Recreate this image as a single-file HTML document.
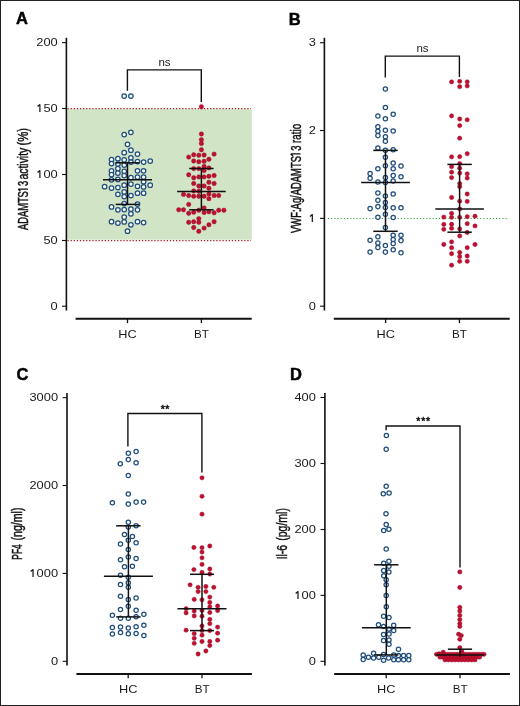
<!DOCTYPE html>
<html><head><meta charset="utf-8"><style>
html,body{margin:0;padding:0;background:#fff;}
svg{display:block;will-change:transform;}
</style></head><body>
<svg width="520" height="706" viewBox="0 0 520 706">
<rect x="0.5" y="0.5" width="519" height="705" fill="#fff" stroke="#222" stroke-width="1"/><rect x="67.2" y="109.2" width="184.6" height="130.5" fill="#d2e4c6"/><g stroke="#b01c22" stroke-width="1.2" stroke-dasharray="1.3 1.8"><line x1="67.5" y1="108.6" x2="251" y2="108.6"/><line x1="67.5" y1="240.6" x2="251" y2="240.6"/></g><g stroke="#34a034" stroke-width="1.15" stroke-dasharray="1.1 2.07"><line x1="328" y1="218.5" x2="509" y2="218.5"/></g><g stroke="#111" fill="none"><line x1="66.4" y1="37.8" x2="66.4" y2="310.4" stroke-width="1.6"/><line x1="62.00000000000001" y1="42.6" x2="66.4" y2="42.6" stroke-width="1.1"/><line x1="62.00000000000001" y1="108.5" x2="66.4" y2="108.5" stroke-width="1.1"/><line x1="62.00000000000001" y1="174.5" x2="66.4" y2="174.5" stroke-width="1.1"/><line x1="62.00000000000001" y1="240.5" x2="66.4" y2="240.5" stroke-width="1.1"/><line x1="62.00000000000001" y1="306.2" x2="66.4" y2="306.2" stroke-width="1.1"/><line x1="75.6" y1="318.8" x2="251.7" y2="318.8" stroke-width="2"/><line x1="127.5" y1="318.8" x2="127.5" y2="323.1" stroke-width="1.3"/><line x1="201.4" y1="318.8" x2="201.4" y2="323.1" stroke-width="1.3"/><line x1="324.4" y1="37.8" x2="324.4" y2="310.4" stroke-width="1.6"/><line x1="320.0" y1="42.7" x2="324.4" y2="42.7" stroke-width="1.1"/><line x1="320.0" y1="130.5" x2="324.4" y2="130.5" stroke-width="1.1"/><line x1="320.0" y1="218.4" x2="324.4" y2="218.4" stroke-width="1.1"/><line x1="320.0" y1="306.2" x2="324.4" y2="306.2" stroke-width="1.1"/><line x1="333.8" y1="318.8" x2="509.7" y2="318.8" stroke-width="2"/><line x1="385.6" y1="318.8" x2="385.6" y2="323.1" stroke-width="1.3"/><line x1="459.4" y1="318.8" x2="459.4" y2="323.1" stroke-width="1.3"/><line x1="67.0" y1="392.9" x2="67.0" y2="665.6" stroke-width="1.6"/><line x1="62.6" y1="397.7" x2="67.0" y2="397.7" stroke-width="1.1"/><line x1="62.6" y1="485.5" x2="67.0" y2="485.5" stroke-width="1.1"/><line x1="62.6" y1="573.4" x2="67.0" y2="573.4" stroke-width="1.1"/><line x1="62.6" y1="661.3" x2="67.0" y2="661.3" stroke-width="1.1"/><line x1="76.4" y1="673.9" x2="251.9" y2="673.9" stroke-width="2"/><line x1="128.2" y1="673.9" x2="128.2" y2="678.1999999999999" stroke-width="1.3"/><line x1="202" y1="673.9" x2="202" y2="678.1999999999999" stroke-width="1.3"/><line x1="324.9" y1="392.9" x2="324.9" y2="665.6" stroke-width="1.6"/><line x1="320.5" y1="397.5" x2="324.9" y2="397.5" stroke-width="1.1"/><line x1="320.5" y1="463.5" x2="324.9" y2="463.5" stroke-width="1.1"/><line x1="320.5" y1="529.5" x2="324.9" y2="529.5" stroke-width="1.1"/><line x1="320.5" y1="595.4" x2="324.9" y2="595.4" stroke-width="1.1"/><line x1="320.5" y1="661.3" x2="324.9" y2="661.3" stroke-width="1.1"/><line x1="334.2" y1="673.9" x2="509.9" y2="673.9" stroke-width="2"/><line x1="386.2" y1="673.9" x2="386.2" y2="678.1999999999999" stroke-width="1.3"/><line x1="460" y1="673.9" x2="460" y2="678.1999999999999" stroke-width="1.3"/><g stroke-width="1.4"><polyline points="127.4,90.7 127.4,69.9 201.3,69.9 201.3,102"/><polyline points="385.3,77.4 385.3,56.1 459.4,56.1 459.4,77"/><polyline points="127.9,446.5 127.9,413.5 201.9,413.5 201.9,472.5"/><polyline points="386.1,430.3 386.1,426 460,426 460,567.5"/></g></g><g fill="#fff" stroke="#1f4d7c" stroke-width="1.25"><circle cx="124.2" cy="96" r="2.25"/><circle cx="130.9" cy="96" r="2.25"/><circle cx="124.2" cy="134.5" r="2.25"/><circle cx="130.9" cy="132.3" r="2.25"/><circle cx="127.5" cy="144.3" r="2.25"/><circle cx="130.9" cy="150.2" r="2.25"/><circle cx="124.2" cy="152.7" r="2.25"/><circle cx="137.5" cy="154.1" r="2.25"/><circle cx="111.5" cy="159.5" r="2.25"/><circle cx="117.9" cy="158.7" r="2.25"/><circle cx="124.2" cy="159.8" r="2.25"/><circle cx="130.9" cy="157.8" r="2.25"/><circle cx="137.5" cy="161.5" r="2.25"/><circle cx="143.6" cy="162.1" r="2.25"/><circle cx="150.2" cy="161" r="2.25"/><circle cx="130.9" cy="162.1" r="2.25"/><circle cx="111.5" cy="163.6" r="2.25"/><circle cx="117.9" cy="164.1" r="2.25"/><circle cx="124.2" cy="165" r="2.25"/><circle cx="117.9" cy="168.5" r="2.25"/><circle cx="111.5" cy="170.8" r="2.25"/><circle cx="124.2" cy="171.3" r="2.25"/><circle cx="137.5" cy="170.8" r="2.25"/><circle cx="143.6" cy="170.8" r="2.25"/><circle cx="117.9" cy="173.1" r="2.25"/><circle cx="111.5" cy="174.5" r="2.25"/><circle cx="124.2" cy="175.6" r="2.25"/><circle cx="130.9" cy="177.5" r="2.25"/><circle cx="137.5" cy="177.1" r="2.25"/><circle cx="143.6" cy="177.1" r="2.25"/><circle cx="111.5" cy="179.8" r="2.25"/><circle cx="117.9" cy="179.4" r="2.25"/><circle cx="143.6" cy="181.7" r="2.25"/><circle cx="130.9" cy="184" r="2.25"/><circle cx="124.2" cy="185.2" r="2.25"/><circle cx="150.2" cy="185.2" r="2.25"/><circle cx="104.6" cy="186.7" r="2.25"/><circle cx="137.5" cy="186.3" r="2.25"/><circle cx="143.6" cy="186.9" r="2.25"/><circle cx="111.5" cy="188.1" r="2.25"/><circle cx="117.9" cy="187.5" r="2.25"/><circle cx="117.9" cy="194.3" r="2.25"/><circle cx="124.2" cy="191.9" r="2.25"/><circle cx="124.2" cy="196.5" r="2.25"/><circle cx="130.9" cy="195.5" r="2.25"/><circle cx="137.5" cy="193.2" r="2.25"/><circle cx="143.6" cy="193.2" r="2.25"/><circle cx="124.2" cy="203.5" r="2.25"/><circle cx="137.5" cy="204" r="2.25"/><circle cx="111.5" cy="206.9" r="2.25"/><circle cx="117.9" cy="209.8" r="2.25"/><circle cx="124.2" cy="209.5" r="2.25"/><circle cx="130.9" cy="209.2" r="2.25"/><circle cx="130.9" cy="213.8" r="2.25"/><circle cx="137.5" cy="209.8" r="2.25"/><circle cx="124.2" cy="217.1" r="2.25"/><circle cx="111.5" cy="221.7" r="2.25"/><circle cx="117.9" cy="223.1" r="2.25"/><circle cx="124.2" cy="221.9" r="2.25"/><circle cx="130.9" cy="224.8" r="2.25"/><circle cx="137.5" cy="221.7" r="2.25"/><circle cx="143.6" cy="222.5" r="2.25"/><circle cx="127.5" cy="231.2" r="2.25"/><circle cx="385.4" cy="89" r="2.15"/><circle cx="385.4" cy="107.5" r="2.15"/><circle cx="377.9" cy="116" r="2.15"/><circle cx="385.4" cy="118.7" r="2.15"/><circle cx="393.2" cy="114.3" r="2.15"/><circle cx="377.9" cy="126.7" r="2.15"/><circle cx="377.9" cy="131.3" r="2.15"/><circle cx="377.9" cy="135.6" r="2.15"/><circle cx="385.4" cy="130.2" r="2.15"/><circle cx="385.4" cy="136.8" r="2.15"/><circle cx="393.2" cy="131" r="2.15"/><circle cx="385.4" cy="141.3" r="2.15"/><circle cx="377.9" cy="147.9" r="2.15"/><circle cx="385.4" cy="150.2" r="2.15"/><circle cx="393.2" cy="149.8" r="2.15"/><circle cx="385.4" cy="157.3" r="2.15"/><circle cx="385.4" cy="165.8" r="2.15"/><circle cx="393.2" cy="162.9" r="2.15"/><circle cx="393.2" cy="168.7" r="2.15"/><circle cx="401" cy="166" r="2.15"/><circle cx="377.9" cy="168.7" r="2.15"/><circle cx="370.1" cy="173.6" r="2.15"/><circle cx="370.1" cy="178.2" r="2.15"/><circle cx="385.4" cy="177.5" r="2.15"/><circle cx="393.2" cy="175.6" r="2.15"/><circle cx="401" cy="176.7" r="2.15"/><circle cx="377.9" cy="182" r="2.15"/><circle cx="385.4" cy="182.5" r="2.15"/><circle cx="393.2" cy="181" r="2.15"/><circle cx="377.9" cy="193" r="2.15"/><circle cx="393.2" cy="193.9" r="2.15"/><circle cx="385.4" cy="195.9" r="2.15"/><circle cx="377.9" cy="200.2" r="2.15"/><circle cx="385.4" cy="202.5" r="2.15"/><circle cx="370.1" cy="208.6" r="2.15"/><circle cx="377.9" cy="206.6" r="2.15"/><circle cx="385.4" cy="207.4" r="2.15"/><circle cx="393.2" cy="207.8" r="2.15"/><circle cx="401" cy="207.8" r="2.15"/><circle cx="385.4" cy="214.3" r="2.15"/><circle cx="377.9" cy="217.2" r="2.15"/><circle cx="393.2" cy="217.5" r="2.15"/><circle cx="385.4" cy="227.4" r="2.15"/><circle cx="377.9" cy="236.8" r="2.15"/><circle cx="393.2" cy="235.2" r="2.15"/><circle cx="401" cy="235.2" r="2.15"/><circle cx="370.1" cy="240.2" r="2.15"/><circle cx="370.1" cy="252.1" r="2.15"/><circle cx="377.9" cy="242.9" r="2.15"/><circle cx="377.9" cy="247.5" r="2.15"/><circle cx="385.4" cy="245.5" r="2.15"/><circle cx="385.4" cy="252.1" r="2.15"/><circle cx="393.2" cy="239.4" r="2.15"/><circle cx="393.2" cy="243.5" r="2.15"/><circle cx="393.2" cy="249.8" r="2.15"/><circle cx="401" cy="240.6" r="2.15"/><circle cx="401" cy="252.7" r="2.15"/><circle cx="128.3" cy="453.3" r="2.15"/><circle cx="136.1" cy="451.5" r="2.15"/><circle cx="128.3" cy="459.6" r="2.15"/><circle cx="120.3" cy="463.7" r="2.15"/><circle cx="136.1" cy="462.8" r="2.15"/><circle cx="128.3" cy="475.5" r="2.15"/><circle cx="128.3" cy="494" r="2.15"/><circle cx="112.4" cy="502.7" r="2.15"/><circle cx="128.3" cy="504.1" r="2.15"/><circle cx="136.1" cy="502.1" r="2.15"/><circle cx="143.6" cy="502.1" r="2.15"/><circle cx="128.3" cy="522.3" r="2.15"/><circle cx="128.3" cy="526.9" r="2.15"/><circle cx="136.1" cy="525.8" r="2.15"/><circle cx="124.5" cy="534.4" r="2.15"/><circle cx="132.4" cy="536.4" r="2.15"/><circle cx="128.3" cy="540.2" r="2.15"/><circle cx="120.5" cy="544" r="2.15"/><circle cx="136.1" cy="542.8" r="2.15"/><circle cx="128.3" cy="549.6" r="2.15"/><circle cx="128.3" cy="557.1" r="2.15"/><circle cx="120.5" cy="559.8" r="2.15"/><circle cx="136.1" cy="558.5" r="2.15"/><circle cx="124.5" cy="566.8" r="2.15"/><circle cx="132.4" cy="566.3" r="2.15"/><circle cx="120.5" cy="575.2" r="2.15"/><circle cx="128.3" cy="577.2" r="2.15"/><circle cx="128.3" cy="582.7" r="2.15"/><circle cx="120.5" cy="584.4" r="2.15"/><circle cx="128.3" cy="587.3" r="2.15"/><circle cx="120.5" cy="596.3" r="2.15"/><circle cx="128.3" cy="599.6" r="2.15"/><circle cx="136.1" cy="597.9" r="2.15"/><circle cx="128.3" cy="606.2" r="2.15"/><circle cx="120.5" cy="609.4" r="2.15"/><circle cx="136.1" cy="610.2" r="2.15"/><circle cx="112.4" cy="615.2" r="2.15"/><circle cx="143.9" cy="614.2" r="2.15"/><circle cx="120.5" cy="618.3" r="2.15"/><circle cx="128.3" cy="618.3" r="2.15"/><circle cx="136.1" cy="616.8" r="2.15"/><circle cx="112.4" cy="627.5" r="2.15"/><circle cx="120.5" cy="626.9" r="2.15"/><circle cx="128.3" cy="628.1" r="2.15"/><circle cx="136.1" cy="626.7" r="2.15"/><circle cx="143.9" cy="625.2" r="2.15"/><circle cx="112.4" cy="634.1" r="2.15"/><circle cx="120.5" cy="632.5" r="2.15"/><circle cx="128.3" cy="633.8" r="2.15"/><circle cx="136.1" cy="633.6" r="2.15"/><circle cx="143.9" cy="635.6" r="2.15"/><circle cx="386.4" cy="435.5" r="2.15"/><circle cx="386.2" cy="449.2" r="2.15"/><circle cx="386.2" cy="486.2" r="2.15"/><circle cx="383.3" cy="493.7" r="2.15"/><circle cx="389.1" cy="493" r="2.15"/><circle cx="386" cy="513.7" r="2.15"/><circle cx="386.2" cy="524.4" r="2.15"/><circle cx="383.7" cy="530.4" r="2.15"/><circle cx="388.9" cy="529.2" r="2.15"/><circle cx="386.2" cy="549" r="2.15"/><circle cx="383.7" cy="563.3" r="2.15"/><circle cx="388.9" cy="561.3" r="2.15"/><circle cx="388.9" cy="566.3" r="2.15"/><circle cx="383.7" cy="570.6" r="2.15"/><circle cx="388.9" cy="572.1" r="2.15"/><circle cx="383.7" cy="575.8" r="2.15"/><circle cx="386.2" cy="579.8" r="2.15"/><circle cx="386.2" cy="584.8" r="2.15"/><circle cx="386.2" cy="595.6" r="2.15"/><circle cx="386.3" cy="606.8" r="2.15"/><circle cx="383.6" cy="616.2" r="2.15"/><circle cx="389" cy="617.6" r="2.15"/><circle cx="378.5" cy="624.7" r="2.15"/><circle cx="393.7" cy="625.3" r="2.15"/><circle cx="383.6" cy="626.6" r="2.15"/><circle cx="389" cy="629" r="2.15"/><circle cx="393.7" cy="630.6" r="2.15"/><circle cx="383.6" cy="634.4" r="2.15"/><circle cx="389" cy="634.1" r="2.15"/><circle cx="383.6" cy="640.5" r="2.15"/><circle cx="389" cy="640" r="2.15"/><circle cx="389" cy="644.2" r="2.15"/><circle cx="398.5" cy="649.3" r="2.15"/><circle cx="363.2" cy="655" r="2.15"/><circle cx="363.2" cy="659.6" r="2.15"/><circle cx="368.4" cy="657.3" r="2.15"/><circle cx="373.6" cy="653.3" r="2.15"/><circle cx="373.6" cy="657.9" r="2.15"/><circle cx="378.8" cy="657.3" r="2.15"/><circle cx="383.6" cy="654.4" r="2.15"/><circle cx="383.6" cy="660.2" r="2.15"/><circle cx="388.6" cy="657.9" r="2.15"/><circle cx="393.8" cy="655" r="2.15"/><circle cx="393.8" cy="659.8" r="2.15"/><circle cx="398.4" cy="655.6" r="2.15"/><circle cx="398.4" cy="659.8" r="2.15"/><circle cx="403.6" cy="655.6" r="2.15"/><circle cx="403.6" cy="659.8" r="2.15"/><circle cx="408.8" cy="655.6" r="2.15"/><circle cx="408.8" cy="659.8" r="2.15"/></g><g fill="#c0102f" stroke="#980c2a" stroke-width="0.45"><circle cx="201.4" cy="106.8" r="2.2"/><circle cx="201.4" cy="134" r="2.2"/><circle cx="201.4" cy="139.8" r="2.2"/><circle cx="201.4" cy="143.5" r="2.2"/><circle cx="201.4" cy="149.8" r="2.2"/><circle cx="193.7" cy="154.8" r="2.2"/><circle cx="198.8" cy="155.2" r="2.2"/><circle cx="204.1" cy="155" r="2.2"/><circle cx="214.1" cy="154.1" r="2.2"/><circle cx="188.7" cy="157.1" r="2.2"/><circle cx="193.7" cy="161" r="2.2"/><circle cx="198.8" cy="161.7" r="2.2"/><circle cx="204.1" cy="161.3" r="2.2"/><circle cx="208.9" cy="159.3" r="2.2"/><circle cx="193.7" cy="168.6" r="2.2"/><circle cx="198.8" cy="168.6" r="2.2"/><circle cx="204.1" cy="166.5" r="2.2"/><circle cx="204.1" cy="170.6" r="2.2"/><circle cx="208.9" cy="167.9" r="2.2"/><circle cx="188.7" cy="174.8" r="2.2"/><circle cx="193.7" cy="177.8" r="2.2"/><circle cx="198.8" cy="176.9" r="2.2"/><circle cx="204.1" cy="176.9" r="2.2"/><circle cx="208.9" cy="176.3" r="2.2"/><circle cx="214.1" cy="175.5" r="2.2"/><circle cx="193.7" cy="183.5" r="2.2"/><circle cx="208.9" cy="182.3" r="2.2"/><circle cx="214.1" cy="183.5" r="2.2"/><circle cx="198.8" cy="186" r="2.2"/><circle cx="204.1" cy="186" r="2.2"/><circle cx="208.9" cy="188.3" r="2.2"/><circle cx="193.7" cy="190.9" r="2.2"/><circle cx="198.8" cy="191.2" r="2.2"/><circle cx="183.5" cy="194.4" r="2.2"/><circle cx="188.7" cy="195.5" r="2.2"/><circle cx="193.7" cy="196.3" r="2.2"/><circle cx="198.8" cy="196.3" r="2.2"/><circle cx="204.1" cy="196.3" r="2.2"/><circle cx="208.9" cy="194" r="2.2"/><circle cx="208.9" cy="198.7" r="2.2"/><circle cx="214.1" cy="195.5" r="2.2"/><circle cx="218.7" cy="195.5" r="2.2"/><circle cx="188.7" cy="204.4" r="2.2"/><circle cx="178.7" cy="209.8" r="2.2"/><circle cx="183.5" cy="209.8" r="2.2"/><circle cx="188.7" cy="213.3" r="2.2"/><circle cx="193.7" cy="212.2" r="2.2"/><circle cx="198.8" cy="210.2" r="2.2"/><circle cx="204.1" cy="207.9" r="2.2"/><circle cx="204.1" cy="212.5" r="2.2"/><circle cx="208.9" cy="211.7" r="2.2"/><circle cx="214.1" cy="212.8" r="2.2"/><circle cx="218.7" cy="210.2" r="2.2"/><circle cx="223.9" cy="210.2" r="2.2"/><circle cx="198.8" cy="218.6" r="2.2"/><circle cx="188.7" cy="222.3" r="2.2"/><circle cx="193.7" cy="221.7" r="2.2"/><circle cx="198.8" cy="222.3" r="2.2"/><circle cx="214.1" cy="221.7" r="2.2"/><circle cx="193.7" cy="227.5" r="2.2"/><circle cx="204.1" cy="228.1" r="2.2"/><circle cx="208.9" cy="224.8" r="2.2"/><circle cx="198.8" cy="231.3" r="2.2"/><circle cx="451.6" cy="81.9" r="2.15"/><circle cx="459.7" cy="81.3" r="2.15"/><circle cx="459.7" cy="86.7" r="2.15"/><circle cx="467.2" cy="81.8" r="2.15"/><circle cx="467.2" cy="85.9" r="2.15"/><circle cx="451.6" cy="115.9" r="2.15"/><circle cx="459.7" cy="119" r="2.15"/><circle cx="467.2" cy="119.8" r="2.15"/><circle cx="459.7" cy="125.6" r="2.15"/><circle cx="459.7" cy="138.2" r="2.15"/><circle cx="467.2" cy="153.7" r="2.15"/><circle cx="451.6" cy="156.9" r="2.15"/><circle cx="459.7" cy="156.7" r="2.15"/><circle cx="459.7" cy="163.6" r="2.15"/><circle cx="451.6" cy="166.7" r="2.15"/><circle cx="459.7" cy="168.2" r="2.15"/><circle cx="451.6" cy="172.2" r="2.15"/><circle cx="459.7" cy="173.1" r="2.15"/><circle cx="467.2" cy="173.8" r="2.15"/><circle cx="451.6" cy="177.6" r="2.15"/><circle cx="467.2" cy="178.1" r="2.15"/><circle cx="459.7" cy="183.6" r="2.15"/><circle cx="459.7" cy="186.7" r="2.15"/><circle cx="467.2" cy="194" r="2.15"/><circle cx="451.6" cy="197.5" r="2.15"/><circle cx="459.7" cy="201.2" r="2.15"/><circle cx="467.2" cy="201.4" r="2.15"/><circle cx="459.7" cy="209" r="2.15"/><circle cx="451.6" cy="213.3" r="2.15"/><circle cx="451.6" cy="217.3" r="2.15"/><circle cx="443.8" cy="217.1" r="2.15"/><circle cx="459.7" cy="217.3" r="2.15"/><circle cx="467.2" cy="216.7" r="2.15"/><circle cx="475" cy="216.2" r="2.15"/><circle cx="443.8" cy="224.4" r="2.15"/><circle cx="451.6" cy="224.2" r="2.15"/><circle cx="467.2" cy="223.7" r="2.15"/><circle cx="475" cy="225.9" r="2.15"/><circle cx="443.8" cy="229.3" r="2.15"/><circle cx="451.6" cy="228.3" r="2.15"/><circle cx="459.7" cy="228.9" r="2.15"/><circle cx="467.2" cy="232.5" r="2.15"/><circle cx="459.7" cy="235.9" r="2.15"/><circle cx="443.8" cy="244.5" r="2.15"/><circle cx="451.6" cy="241.9" r="2.15"/><circle cx="451.6" cy="247.7" r="2.15"/><circle cx="475" cy="244.5" r="2.15"/><circle cx="467.2" cy="247.7" r="2.15"/><circle cx="451.6" cy="253.7" r="2.15"/><circle cx="459.7" cy="252.5" r="2.15"/><circle cx="459.7" cy="256.7" r="2.15"/><circle cx="459.7" cy="261.3" r="2.15"/><circle cx="467.2" cy="256" r="2.15"/><circle cx="467.2" cy="261.3" r="2.15"/><circle cx="451.6" cy="265.2" r="2.15"/><circle cx="202" cy="477.8" r="2.15"/><circle cx="202" cy="496.3" r="2.15"/><circle cx="202" cy="514.2" r="2.15"/><circle cx="193.9" cy="547.5" r="2.15"/><circle cx="202" cy="547.7" r="2.15"/><circle cx="209.8" cy="546" r="2.15"/><circle cx="202" cy="552.1" r="2.15"/><circle cx="202" cy="557.8" r="2.15"/><circle cx="202" cy="564.4" r="2.15"/><circle cx="193.9" cy="569.6" r="2.15"/><circle cx="209.8" cy="569" r="2.15"/><circle cx="202" cy="572.5" r="2.15"/><circle cx="209.8" cy="574" r="2.15"/><circle cx="190.1" cy="584.8" r="2.15"/><circle cx="198.1" cy="587.3" r="2.15"/><circle cx="205.9" cy="586.5" r="2.15"/><circle cx="213.8" cy="587.3" r="2.15"/><circle cx="198.1" cy="591.6" r="2.15"/><circle cx="205.9" cy="591.6" r="2.15"/><circle cx="209.8" cy="597.1" r="2.15"/><circle cx="194.2" cy="599.4" r="2.15"/><circle cx="202" cy="599.8" r="2.15"/><circle cx="209.8" cy="602.5" r="2.15"/><circle cx="186.1" cy="608.7" r="2.15"/><circle cx="209.8" cy="606.9" r="2.15"/><circle cx="217.6" cy="606" r="2.15"/><circle cx="186.1" cy="612.9" r="2.15"/><circle cx="194.2" cy="611" r="2.15"/><circle cx="202" cy="610.6" r="2.15"/><circle cx="209.8" cy="612.5" r="2.15"/><circle cx="217.6" cy="610.6" r="2.15"/><circle cx="194.2" cy="615.9" r="2.15"/><circle cx="202" cy="616.2" r="2.15"/><circle cx="209.8" cy="619.4" r="2.15"/><circle cx="209.8" cy="623.7" r="2.15"/><circle cx="202" cy="626" r="2.15"/><circle cx="217.6" cy="627.1" r="2.15"/><circle cx="186.1" cy="630.2" r="2.15"/><circle cx="202" cy="630.6" r="2.15"/><circle cx="209.8" cy="630.6" r="2.15"/><circle cx="194.2" cy="633.7" r="2.15"/><circle cx="202" cy="635.2" r="2.15"/><circle cx="217.6" cy="633.2" r="2.15"/><circle cx="194.2" cy="638.3" r="2.15"/><circle cx="194.2" cy="643.3" r="2.15"/><circle cx="202" cy="641.5" r="2.15"/><circle cx="209.8" cy="641.5" r="2.15"/><circle cx="209.8" cy="645.6" r="2.15"/><circle cx="217.6" cy="640.2" r="2.15"/><circle cx="205.9" cy="651" r="2.15"/><circle cx="198.1" cy="654" r="2.15"/><circle cx="459.8" cy="571.9" r="2.15"/><circle cx="459.8" cy="587.5" r="2.15"/><circle cx="459.8" cy="607.3" r="2.15"/><circle cx="459.8" cy="611" r="2.15"/><circle cx="459.8" cy="615.4" r="2.15"/><circle cx="459.8" cy="619.6" r="2.15"/><circle cx="459.8" cy="623.5" r="2.15"/><circle cx="459.8" cy="626.4" r="2.15"/><circle cx="458.6" cy="634.2" r="2.15"/><circle cx="461.3" cy="635.6" r="2.15"/><circle cx="459.8" cy="639.3" r="2.15"/><circle cx="459.8" cy="647.6" r="2.15"/><circle cx="461.8" cy="651.5" r="2.15"/><circle cx="443.2" cy="652.2" r="2.15"/><circle cx="439" cy="653.8" r="2.15"/><circle cx="436.5" cy="654.3" r="2.15"/><circle cx="439.1388888888889" cy="654.3" r="2.15"/><circle cx="441.77777777777777" cy="654.3" r="2.15"/><circle cx="444.4166666666667" cy="654.3" r="2.15"/><circle cx="447.05555555555554" cy="654.3" r="2.15"/><circle cx="449.69444444444446" cy="654.3" r="2.15"/><circle cx="452.3333333333333" cy="654.3" r="2.15"/><circle cx="454.97222222222223" cy="654.3" r="2.15"/><circle cx="457.6111111111111" cy="654.3" r="2.15"/><circle cx="460.25" cy="654.3" r="2.15"/><circle cx="462.8888888888889" cy="654.3" r="2.15"/><circle cx="465.52777777777777" cy="654.3" r="2.15"/><circle cx="468.1666666666667" cy="654.3" r="2.15"/><circle cx="470.80555555555554" cy="654.3" r="2.15"/><circle cx="473.44444444444446" cy="654.3" r="2.15"/><circle cx="476.0833333333333" cy="654.3" r="2.15"/><circle cx="478.72222222222223" cy="654.3" r="2.15"/><circle cx="481.3611111111111" cy="654.3" r="2.15"/><circle cx="484.0" cy="654.3" r="2.15"/><circle cx="440.0" cy="657.2" r="2.15"/><circle cx="443.03846153846155" cy="657.2" r="2.15"/><circle cx="446.0769230769231" cy="657.2" r="2.15"/><circle cx="449.11538461538464" cy="657.2" r="2.15"/><circle cx="452.15384615384613" cy="657.2" r="2.15"/><circle cx="455.1923076923077" cy="657.2" r="2.15"/><circle cx="458.2307692307692" cy="657.2" r="2.15"/><circle cx="461.2692307692308" cy="657.2" r="2.15"/><circle cx="464.3076923076923" cy="657.2" r="2.15"/><circle cx="467.34615384615387" cy="657.2" r="2.15"/><circle cx="470.38461538461536" cy="657.2" r="2.15"/><circle cx="473.4230769230769" cy="657.2" r="2.15"/><circle cx="476.46153846153845" cy="657.2" r="2.15"/><circle cx="479.5" cy="657.2" r="2.15"/><circle cx="445.0" cy="659.9" r="2.15"/><circle cx="448.3333333333333" cy="659.9" r="2.15"/><circle cx="451.6666666666667" cy="659.9" r="2.15"/><circle cx="455.0" cy="659.9" r="2.15"/><circle cx="458.3333333333333" cy="659.9" r="2.15"/><circle cx="461.6666666666667" cy="659.9" r="2.15"/><circle cx="465.0" cy="659.9" r="2.15"/><circle cx="468.3333333333333" cy="659.9" r="2.15"/><circle cx="471.6666666666667" cy="659.9" r="2.15"/><circle cx="475.0" cy="659.9" r="2.15"/></g><g stroke="#111" stroke-width="1.5"><line x1="103.0" y1="179.8" x2="152.0" y2="179.8"/><line x1="115.7" y1="162.8" x2="139.3" y2="162.8"/><line x1="115.7" y1="204.4" x2="139.3" y2="204.4"/><line x1="127.5" y1="162.8" x2="127.5" y2="204.4"/><line x1="177.1" y1="191.5" x2="225.70000000000002" y2="191.5"/><line x1="189.20000000000002" y1="168.5" x2="213.6" y2="168.5"/><line x1="189.20000000000002" y1="209.8" x2="213.6" y2="209.8"/><line x1="201.4" y1="168.5" x2="201.4" y2="209.8"/><line x1="361.1" y1="182.5" x2="409.9" y2="182.5"/><line x1="373.3" y1="150.4" x2="397.7" y2="150.4"/><line x1="373.3" y1="231.3" x2="397.7" y2="231.3"/><line x1="385.5" y1="150.4" x2="385.5" y2="231.3"/><line x1="435.3" y1="209.0" x2="483.90000000000003" y2="209.0"/><line x1="447.40000000000003" y1="164.4" x2="471.8" y2="164.4"/><line x1="447.40000000000003" y1="232.2" x2="471.8" y2="232.2"/><line x1="459.6" y1="164.4" x2="459.6" y2="232.2"/><line x1="103.9" y1="576.3" x2="152.9" y2="576.3"/><line x1="116.2" y1="525.8" x2="140.6" y2="525.8"/><line x1="116.2" y1="616.9" x2="140.6" y2="616.9"/><line x1="128.4" y1="525.8" x2="128.4" y2="616.9"/><line x1="177.5" y1="608.7" x2="226.5" y2="608.7"/><line x1="190.0" y1="574.3" x2="214.0" y2="574.3"/><line x1="190.0" y1="630.6" x2="214.0" y2="630.6"/><line x1="202.0" y1="574.3" x2="202.0" y2="630.6"/><line x1="361.90000000000003" y1="627.7" x2="410.7" y2="627.7"/><line x1="374.1" y1="564.8" x2="398.5" y2="564.8"/><line x1="374.1" y1="654.9" x2="398.5" y2="654.9"/><line x1="386.3" y1="564.8" x2="386.3" y2="654.9"/><line x1="435.8" y1="655.0" x2="484.2" y2="655.0"/><line x1="447.9" y1="649.2" x2="472.1" y2="649.2"/><line x1="460" y1="649.2" x2="460" y2="657"/></g><g font-family="Liberation Sans, sans-serif" font-size="11.3" fill="#1a1a1a"><text x="36.31" y="46.20" textLength="7.16" lengthAdjust="spacingAndGlyphs">2</text><text x="43.48" y="46.20" textLength="7.16" lengthAdjust="spacingAndGlyphs">0</text><text x="50.64" y="46.20" textLength="7.16" lengthAdjust="spacingAndGlyphs">0</text><path d="M39.89,112.10V104.46L37.59,106.56" fill="none" stroke="#1a1a1a" stroke-width="1.25" stroke-linejoin="bevel"/><text x="43.48" y="112.10" textLength="7.16" lengthAdjust="spacingAndGlyphs">5</text><text x="50.64" y="112.10" textLength="7.16" lengthAdjust="spacingAndGlyphs">0</text><path d="M39.89,178.10V170.46L37.59,172.56" fill="none" stroke="#1a1a1a" stroke-width="1.25" stroke-linejoin="bevel"/><text x="43.48" y="178.10" textLength="7.16" lengthAdjust="spacingAndGlyphs">0</text><text x="50.64" y="178.10" textLength="7.16" lengthAdjust="spacingAndGlyphs">0</text><text x="43.48" y="244.10" textLength="7.16" lengthAdjust="spacingAndGlyphs">5</text><text x="50.64" y="244.10" textLength="7.16" lengthAdjust="spacingAndGlyphs">0</text><text x="50.64" y="309.80" textLength="7.16" lengthAdjust="spacingAndGlyphs">0</text><text x="308.74" y="46.30" textLength="7.16" lengthAdjust="spacingAndGlyphs">3</text><text x="308.74" y="134.10" textLength="7.16" lengthAdjust="spacingAndGlyphs">2</text><path d="M312.32,222.00V214.36L310.02,216.46" fill="none" stroke="#1a1a1a" stroke-width="1.25" stroke-linejoin="bevel"/><text x="308.74" y="309.80" textLength="7.16" lengthAdjust="spacingAndGlyphs">0</text><text x="29.45" y="401.30" textLength="7.16" lengthAdjust="spacingAndGlyphs">3</text><text x="36.61" y="401.30" textLength="7.16" lengthAdjust="spacingAndGlyphs">0</text><text x="43.78" y="401.30" textLength="7.16" lengthAdjust="spacingAndGlyphs">0</text><text x="50.94" y="401.30" textLength="7.16" lengthAdjust="spacingAndGlyphs">0</text><text x="29.45" y="489.10" textLength="7.16" lengthAdjust="spacingAndGlyphs">2</text><text x="36.61" y="489.10" textLength="7.16" lengthAdjust="spacingAndGlyphs">0</text><text x="43.78" y="489.10" textLength="7.16" lengthAdjust="spacingAndGlyphs">0</text><text x="50.94" y="489.10" textLength="7.16" lengthAdjust="spacingAndGlyphs">0</text><path d="M33.03,577.00V569.36L30.73,571.46" fill="none" stroke="#1a1a1a" stroke-width="1.25" stroke-linejoin="bevel"/><text x="36.61" y="577.00" textLength="7.16" lengthAdjust="spacingAndGlyphs">0</text><text x="43.78" y="577.00" textLength="7.16" lengthAdjust="spacingAndGlyphs">0</text><text x="50.94" y="577.00" textLength="7.16" lengthAdjust="spacingAndGlyphs">0</text><text x="50.94" y="664.90" textLength="7.16" lengthAdjust="spacingAndGlyphs">0</text><text x="294.41" y="401.10" textLength="7.16" lengthAdjust="spacingAndGlyphs">4</text><text x="301.58" y="401.10" textLength="7.16" lengthAdjust="spacingAndGlyphs">0</text><text x="308.74" y="401.10" textLength="7.16" lengthAdjust="spacingAndGlyphs">0</text><text x="294.41" y="467.10" textLength="7.16" lengthAdjust="spacingAndGlyphs">3</text><text x="301.58" y="467.10" textLength="7.16" lengthAdjust="spacingAndGlyphs">0</text><text x="308.74" y="467.10" textLength="7.16" lengthAdjust="spacingAndGlyphs">0</text><text x="294.41" y="533.10" textLength="7.16" lengthAdjust="spacingAndGlyphs">2</text><text x="301.58" y="533.10" textLength="7.16" lengthAdjust="spacingAndGlyphs">0</text><text x="308.74" y="533.10" textLength="7.16" lengthAdjust="spacingAndGlyphs">0</text><path d="M297.99,599.00V591.36L295.69,593.46" fill="none" stroke="#1a1a1a" stroke-width="1.25" stroke-linejoin="bevel"/><text x="301.58" y="599.00" textLength="7.16" lengthAdjust="spacingAndGlyphs">0</text><text x="308.74" y="599.00" textLength="7.16" lengthAdjust="spacingAndGlyphs">0</text><text x="308.74" y="664.90" textLength="7.16" lengthAdjust="spacingAndGlyphs">0</text></g><g font-family="Liberation Sans, sans-serif" font-size="11.6" fill="#1a1a1a" text-anchor="middle"><text x="127.5" y="337.8" textLength="18.4" lengthAdjust="spacingAndGlyphs">HC</text><text x="201.5" y="337.8" textLength="14.9" lengthAdjust="spacingAndGlyphs">BT</text><text x="385.7" y="337.8" textLength="18.4" lengthAdjust="spacingAndGlyphs">HC</text><text x="459.5" y="337.8" textLength="14.9" lengthAdjust="spacingAndGlyphs">BT</text><text x="128.2" y="692.9" textLength="18.4" lengthAdjust="spacingAndGlyphs">HC</text><text x="202.2" y="692.9" textLength="14.9" lengthAdjust="spacingAndGlyphs">BT</text><text x="386.2" y="692.9" textLength="18.4" lengthAdjust="spacingAndGlyphs">HC</text><text x="460.2" y="692.9" textLength="14.9" lengthAdjust="spacingAndGlyphs">BT</text><text x="164.5" y="65.5" font-size="11.5">ns</text><text x="422.5" y="52.2" font-size="11.5">ns</text><text x="165.3" y="413.1" font-size="10.5" letter-spacing="0.5" stroke="#1a1a1a" stroke-width="0.5" text-anchor="start" dx="-4.6">**</text><text x="423.6" y="425.2" font-size="10.5" letter-spacing="0.8" stroke="#1a1a1a" stroke-width="0.5" text-anchor="start" dx="-7.3">***</text></g><g font-family="Liberation Sans, sans-serif" font-size="16.5" font-weight="bold" fill="#000" stroke="#000" stroke-width="0.45"><text x="16.1" y="24.3">A</text><text x="288.7" y="25.0">B</text><text x="16.4" y="380.1">C</text><text x="289.9" y="380.2">D</text></g><g font-family="Liberation Sans, sans-serif" font-size="13.8" font-weight="normal" fill="#111" stroke="#111" stroke-width="0.45"><text transform="translate(28.0,229.95) rotate(-90)" textLength="49.050000000000004" lengthAdjust="spacingAndGlyphs">ADAMTS 3</text><text transform="translate(28.0,179.5) rotate(-90)" textLength="31.70000000000001" lengthAdjust="spacingAndGlyphs">activity</text><text transform="translate(28.0,145.5) rotate(-90)" textLength="17.600000000000016" lengthAdjust="spacingAndGlyphs">(%)</text><text transform="translate(300.5,232.89999999999998) rotate(-90)" textLength="87.29999999999998" lengthAdjust="spacingAndGlyphs">VWF:Ag/ADAMTS 3</text><text transform="translate(300.5,142.89999999999998) rotate(-90)" textLength="18.999999999999993" lengthAdjust="spacingAndGlyphs">ratio</text><text transform="translate(21.75,559.7) rotate(-90)" textLength="15.4" lengthAdjust="spacingAndGlyphs">PF4</text><text transform="translate(21.75,540.5) rotate(-90)" textLength="32.999999999999964" lengthAdjust="spacingAndGlyphs">(ng/ml)</text><text transform="translate(286.5,559.3000000000001) rotate(-90)" textLength="14.250000000000023" lengthAdjust="spacingAndGlyphs">Il-6</text><text transform="translate(286.5,540.7) rotate(-90)" textLength="32.59999999999999" lengthAdjust="spacingAndGlyphs">(pg/ml)</text></g><path d="M28.00,189.17H18.32L20.42,191.17" fill="none" stroke="#111" stroke-width="1.3" stroke-linejoin="bevel"/><path d="M300.50,153.97H290.82L292.92,155.97" fill="none" stroke="#111" stroke-width="1.3" stroke-linejoin="bevel"/>
</svg>
</body></html>
